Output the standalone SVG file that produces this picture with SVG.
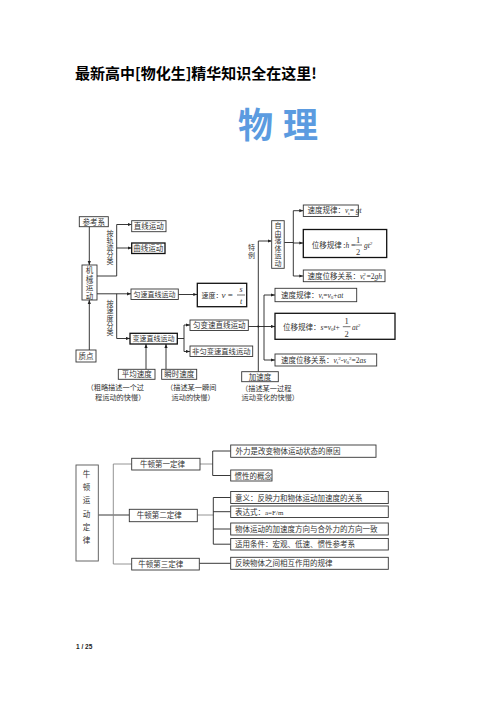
<svg xmlns="http://www.w3.org/2000/svg" width="496" height="702" viewBox="0 0 496 702">
<defs>
<marker id="ar" viewBox="0 0 4 4" refX="4" refY="2" markerWidth="4" markerHeight="4" orient="auto" markerUnits="userSpaceOnUse"><path d="M0,0.4 L4,2 L0,3.6z" fill="#222"/></marker>
</defs>
<style>
.b{fill:#fff;stroke:#333;stroke-width:0.9}
.bb{fill:#fff;stroke:#111;stroke-width:1.3}
.t{font-family:"Noto Sans CJK SC","Noto Sans",sans-serif;font-size:7.5px;fill:#333}
.cp{font-size:7.2px}
.tm{text-anchor:middle}
.v{writing-mode:vertical-rl}
.m{font-family:"Liberation Serif",serif;font-style:italic}
.n{font-family:"Liberation Serif",serif}
.c path{stroke:#222;stroke-width:0.9;fill:none}
.c path.g{stroke:#888}
</style>
<rect width="496" height="702" fill="#fff"/>
<text x="75" y="78.5" style="font-family:'Noto Sans CJK SC',sans-serif;font-size:15px;font-weight:bold;fill:#000">最新高中[物化生]精华知识全在这里!</text>
<text x="238" y="138" style="font-family:'Noto Sans CJK SC',sans-serif;font-size:35px;font-weight:bold;fill:#5b9be0;letter-spacing:10px">物理</text>

<g class="c">
<path d="M89.3,226.7V265" marker-end="url(#ar)"/>
<path d="M89.3,350V300" marker-end="url(#ar)"/>
<path d="M97,276H116.7V224.5H131.7" marker-end="url(#ar)"/>
<path d="M116.7,248H131.7" marker-end="url(#ar)"/>
<path d="M97,293.8H131" marker-end="url(#ar)"/>
<path d="M116.7,293.8V338.5H130" marker-end="url(#ar)"/>
<path d="M178.3,294.5H197.3" marker-end="url(#ar)"/>
<path d="M177.3,338.5H184"/>
<path d="M184,325V351.5"/>
<path d="M184,325H190" marker-end="url(#ar)"/>
<path d="M184,351.5H190" marker-end="url(#ar)"/>
<path d="M146,369.3V344" marker-end="url(#ar)"/>
<path d="M166,369.3V344" marker-end="url(#ar)"/>
<path d="M248.3,326.5H264"/>
<path d="M264,295V360"/>
<path d="M264,295H275" marker-end="url(#ar)"/>
<path d="M264,326.5H275" marker-end="url(#ar)"/>
<path d="M264,360H275" marker-end="url(#ar)"/>
<path d="M258.3,371.7V241H271.7" marker-end="url(#ar)"/>
<path d="M284.2,242.5H293.3"/>
<path d="M293.3,210.7V276"/>
<path d="M293.3,210.7H303.3" marker-end="url(#ar)"/>
<path d="M293.3,243H303.3" marker-end="url(#ar)"/>
<path d="M293.3,276H303.3" marker-end="url(#ar)"/>
<path d="M98.3,515H129.3"/>
<path class="g" d="M113.3,464V564"/>
<path class="g" d="M113.3,464H131.7"/>
<path class="g" d="M113.3,564H131.7"/>
<path class="g" d="M200,464H212.7"/>
<path d="M212.7,451V475.5"/>
<path d="M212.7,451H230.7"/>
<path d="M212.7,475.5H230.7"/>
<path class="g" d="M197.3,515H213.3"/>
<path d="M213.3,497.5V544.2"/>
<path d="M213.3,497.5H230.7"/>
<path d="M213.3,511.7H230.7"/>
<path d="M213.3,529H230.7"/>
<path d="M213.3,544.2H230.7"/>
<path d="M199.3,563.3H230.7"/>
</g>
<circle cx="258.3" cy="326.5" r="1.1" fill="#222"/>

<g id="cankaoxi"><rect class="b" x="79.3" y="216.7" width="29" height="10"/><text class="t tm" x="93.8" y="224.5">参考系</text></g>
<g id="jixie"><rect class="b" x="82" y="265" width="15" height="35"/><text class="t v" x="89.5" y="266.5" style="letter-spacing:1px">机械运动</text></g>
<g id="zhidian"><rect class="b" x="76" y="350" width="20" height="12"/><text class="t tm" x="86" y="358.8">质点</text></g>
<g id="lab1"><text class="t v" x="110" y="230" style="font-size:7px">按轨迹分类</text></g>
<g id="lab2"><text class="t v" x="110" y="300" style="font-size:7px;letter-spacing:0.3px">按速度分类</text></g>
<g id="zhixian"><rect class="b" x="131.7" y="220.7" width="34.3" height="11"/><text class="t tm" x="148.8" y="229">直线运动</text></g>
<g id="quxian"><rect class="bb" x="131.7" y="243" width="33.3" height="10.5"/><text class="t tm" x="148.3" y="251">曲线运动</text></g>
<g id="yunsu"><rect class="b" x="131" y="289" width="47.3" height="10.5"/><text class="t tm" x="154.6" y="297" style="font-size:7px">匀速直线运动</text></g>
<g id="biansu"><rect class="bb" x="130" y="333.3" width="47.3" height="10.7"/><text class="t tm" x="153.6" y="341.4" style="font-size:7px">变速直线运动</text></g>
<g id="sudu"><rect class="bb" x="197.3" y="283.3" width="49.4" height="23.4"/><text class="t" x="201.5" y="297.8" style="font-size:7px">速度：<tspan class="m" style="font-size:9px" dx="-1">v</tspan><tspan class="n" style="font-size:9px"> = </tspan></text><path d="M237,295H245" stroke="#333" stroke-width="0.7"/><text class="t m tm" x="241" y="292" style="font-size:8px">s</text><text class="t m tm" x="241" y="303.5" style="font-size:8px">t</text></g>
<g id="pingjun"><rect class="b" x="118.3" y="369.3" width="36.7" height="10"/><text class="t tm" x="136.7" y="377">平均速度</text></g>
<g id="shunshi"><rect class="b" x="161.7" y="369.3" width="35" height="10"/><text class="t tm" x="179.2" y="377">瞬时速度</text></g>
<g id="cap1"><text class="t cp"><tspan x="86.5" y="390">（粗略描述一个过</tspan><tspan x="95" y="399.5">程运动的快慢）</tspan></text></g>
<g id="cap2"><text class="t cp"><tspan x="166" y="390">（描述某一瞬间</tspan><tspan x="171.5" y="399.5">运动的快慢）</tspan></text></g>
<g id="yunbian"><rect class="b" x="190" y="320" width="58.3" height="10.5"/><text class="t tm" x="219.2" y="328">匀变速直线运动</text></g>
<g id="feiyunbian"><rect class="b" x="190" y="346" width="62.7" height="10.5"/><text class="t tm" x="221.3" y="354" style="font-size:7.3px">非匀变速直线运动</text></g>
<g id="jiasudu"><rect class="b" x="241.7" y="371.7" width="36.6" height="10"/><text class="t tm" x="260" y="379.5">加速度</text></g>
<g id="cap3"><text class="t cp"><tspan x="241" y="390.5">（描述某一过程</tspan><tspan x="241.5" y="400">运动变化的快慢）</tspan></text></g>
<g id="teli"><text class="t v" x="251.5" y="243.5" style="font-size:7px;letter-spacing:1px">特例</text></g>
<g id="ziyou"><rect class="b" x="271.7" y="220.7" width="12.5" height="47.6"/><text class="t v" x="278" y="221.8" style="font-size:7px;letter-spacing:0.6px">自由落体运动</text></g>
<g id="ff1"><rect class="b" x="303.3" y="205" width="55" height="11.5"/><text class="t" x="307.5" y="213.3">速度规律：<tspan class="m">v</tspan><tspan class="n" style="font-size:5px" dy="1.5">t</tspan><tspan class="n" dy="-1.5">= </tspan><tspan class="m">gt</tspan></text></g>
<g id="ff2"><rect class="bb" x="303.3" y="229.5" width="83.4" height="28"/><text class="t" x="311.7" y="248">位移规律 :<tspan class="m">h</tspan><tspan class="n"> = </tspan></text><path d="M354.5,245H362" stroke="#333" stroke-width="0.7"/><text class="t n tm" x="358.2" y="242.5" style="font-size:8.5px">1</text><text class="t n tm" x="358.2" y="255" style="font-size:8.5px">2</text><text class="t m" x="364" y="248">gt<tspan class="n" style="font-size:5px" dy="-3">2</tspan></text></g>
<g id="ff3"><rect class="b" x="303.3" y="270" width="81.7" height="11.7"/><text class="t" x="307.5" y="278.6">速度位移关系：<tspan class="m">v</tspan><tspan class="n" style="font-size:5px" dy="-2.5">2</tspan><tspan class="n" style="font-size:5px" dx="-2.5" dy="4">t</tspan><tspan class="n" dy="-1.5"> =2</tspan><tspan class="m">gh</tspan></text></g>
<g id="ua1"><rect class="b" x="275" y="288.3" width="81.7" height="13.4"/><text class="t" x="281" y="297.8">速度规律：<tspan class="m">v</tspan><tspan class="n" style="font-size:5px" dy="1.5">t</tspan><tspan class="n" dy="-1.5">=</tspan><tspan class="m">v</tspan><tspan class="n" style="font-size:5px" dy="1.5">0</tspan><tspan class="n" dy="-1.5">+</tspan><tspan class="m">at</tspan></text></g>
<g id="ua2"><rect class="bb" x="275" y="313.3" width="120" height="26"/><text class="t" x="283" y="329.5">位移规律：<tspan class="m">s</tspan><tspan class="n">=</tspan><tspan class="m">v</tspan><tspan class="n" style="font-size:5px" dy="1.5">0</tspan><tspan class="m" dy="-1.5">t</tspan><tspan class="n">+</tspan></text><path d="M342.8,326.7H350.5" stroke="#333" stroke-width="0.7"/><text class="t n tm" x="346.6" y="323.5" style="font-size:8.5px">1</text><text class="t n tm" x="346.6" y="337" style="font-size:8.5px">2</text><text class="t m" x="352" y="329.5">at<tspan class="n" style="font-size:5px" dy="-3">2</tspan></text></g>
<g id="ua3"><rect class="b" x="275" y="354" width="101.7" height="12"/><text class="t" x="281" y="362.8">速度位移关系：<tspan class="m">v</tspan><tspan class="n" style="font-size:5px" dy="1.5">t</tspan><tspan class="n" style="font-size:5px" dy="-4">2</tspan><tspan class="n" dy="2.5">-</tspan><tspan class="m">v</tspan><tspan class="n" style="font-size:5px" dy="1.5">0</tspan><tspan class="n" style="font-size:5px" dy="-4">2</tspan><tspan class="n" dy="2.5">=2</tspan><tspan class="m">as</tspan></text></g>

<g id="niudun"><rect fill="#fff" stroke="#555" stroke-width="0.9" x="76" y="465" width="22.3" height="96"/><text class="t tm"><tspan x="86.5" y="476.7">牛</tspan><tspan x="86.5" y="490">顿</tspan><tspan x="86.5" y="503.4">运</tspan><tspan x="86.5" y="516.7">动</tspan><tspan x="86.5" y="530">定</tspan><tspan x="86.5" y="543.4">律</tspan></text></g>
<g id="law1"><rect class="b" x="131.7" y="458.3" width="68.3" height="11.7"/><text class="t" x="140" y="467">牛顿第一定律</text></g>
<g id="law2"><rect class="b" x="129.3" y="509.3" width="68" height="12.4"/><text class="t" x="136.7" y="518.4">牛顿第二定律</text></g>
<g id="law3"><rect class="b" x="131.7" y="558.3" width="67.6" height="11.7"/><text class="t" x="138.3" y="567">牛顿第三定律</text></g>
<g id="w1"><rect class="b" x="230.7" y="445" width="145.3" height="12.3"/><text class="t" x="235.5" y="454">外力是改变物体运动状态的原因</text></g>
<g id="w2"><rect class="b" x="230.7" y="470" width="41.3" height="11"/><text class="t" x="234.5" y="478.5">惯性的概念</text></g>
<g id="w3"><rect class="b" x="230.7" y="491.5" width="157.6" height="12"/><text class="t" x="235" y="500.5">意义：反映力和物体运动加速度的关系</text></g>
<g id="w4"><rect class="b" x="230.7" y="506" width="157.6" height="11.5"/><text class="t" x="235" y="514.7">表达式：<tspan class="n" style="font-size:7px">a=F/m</tspan></text></g>
<g id="w5"><rect class="b" x="230.7" y="523" width="157.6" height="12"/><text class="t" x="235" y="532">物体运动的加速度方向与合外力的方向一致</text></g>
<g id="w6"><rect class="b" x="230.7" y="538.5" width="157.6" height="11.5"/><text class="t" x="235" y="547.2">适用条件：宏观、低速、惯性参考系</text></g>
<g id="w7"><rect class="b" x="230.7" y="557.3" width="157.6" height="12"/><text class="t" x="235" y="566.3">反映物体之间相互作用的规律</text></g>

<text x="76" y="648.5" style="font-family:'Liberation Sans',sans-serif;font-size:6.5px;font-weight:bold;fill:#222">1 / 25</text>
</svg>
